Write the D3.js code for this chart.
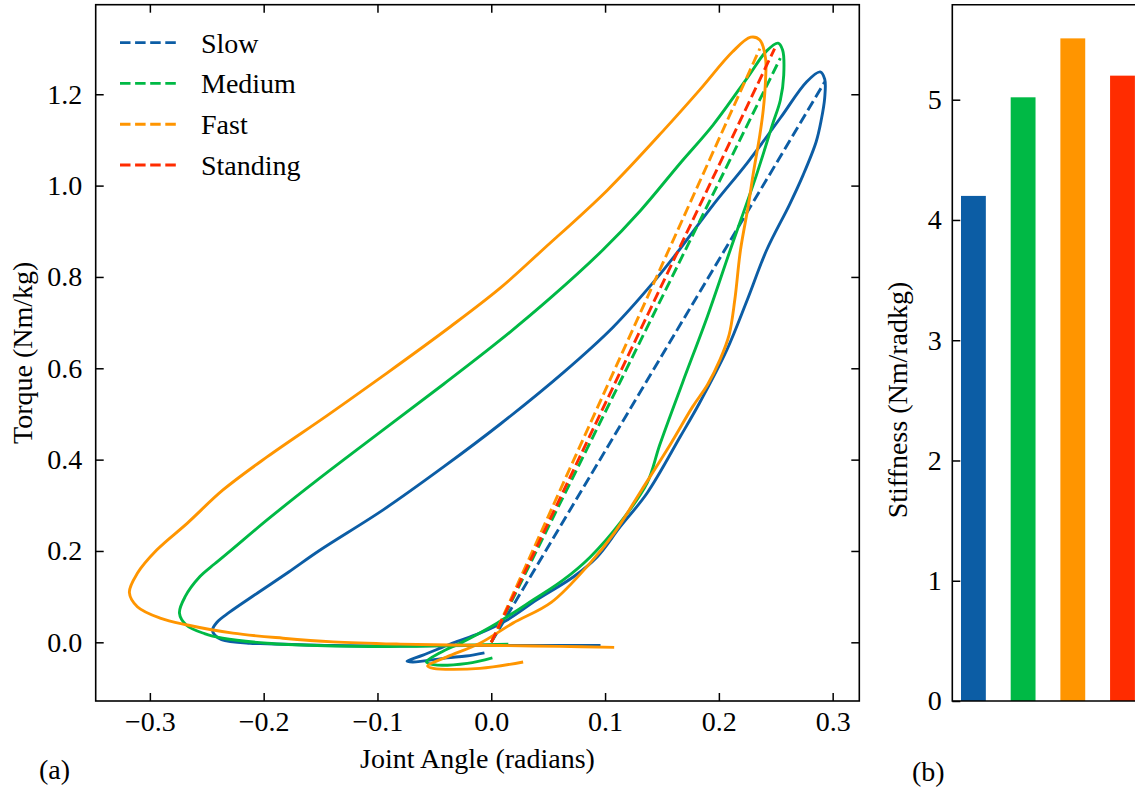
<!DOCTYPE html>
<html>
<head>
<meta charset="utf-8">
<script src="https://cdn.jsdelivr.net/npm/d3@7"></script>
<style>
body { margin: 0; background: #fff; }
svg { display: block; font-family: "Liberation Serif", "Times New Roman", serif; }
</style>
</head>
<body>
<svg id="chart" width="1135" height="790"></svg>
<script>
// conditions, colours and stiffness (bar heights)
var conditions = ["Slow", "Medium", "Fast", "Standing"];
var colors = ["#0C5DA5", "#00B945", "#FF9500", "#FF2C00"];
var stiffness = [4.2, 5.02, 5.51, 5.2];

var xTicks = [-0.3, -0.2, -0.1, 0.0, 0.1, 0.2, 0.3];
var yTicks = [0.0, 0.2, 0.4, 0.6, 0.8, 1.0, 1.2];
var barTicks = [0, 1, 2, 3, 4, 5];

// torque vs joint angle loops, [angle, torque]
var slowLoop = [
  [0.096,-0.007],[0.008,-0.007],[-0.080,-0.008],[-0.139,-0.007],[-0.197,-0.003],[-0.212,-0.002],
  [-0.237,0.006],[-0.243,0.016],[-0.245,0.027],[-0.241,0.044],[-0.230,0.066],[-0.206,0.107],
  [-0.178,0.154],[-0.151,0.201],[-0.095,0.290],[-0.042,0.384],[0.008,0.478],[0.063,0.590],
  [0.107,0.690],[0.142,0.787],[0.163,0.852],[0.195,0.958],[0.225,1.050],[0.254,1.148],
  [0.277,1.227],[0.289,1.249],[0.293,1.233],[0.293,1.192],[0.290,1.144],[0.2855,1.096],
  [0.274,1.023],[0.262,0.958],[0.242,0.859],[0.225,0.750],[0.207,0.640],[0.183,0.524],
  [0.166,0.450],[0.137,0.327],[0.113,0.252],[0.093,0.187],[0.072,0.143],[0.040,0.093],
  [0.014,0.049],[-0.010,0.020],[-0.034,-0.002],[-0.060,-0.028],[-0.074,-0.041],[-0.069,-0.043],
  [-0.039,-0.034],[-0.022,-0.030],[-0.006,-0.023]
];
var mediumLoop = [
  [0.015,-0.004],[-0.036,-0.007],[-0.080,-0.009],[-0.153,-0.007],[-0.197,-0.002],[-0.236,0.009],
  [-0.252,0.019],[-0.268,0.038],[-0.274,0.064],[-0.269,0.100],[-0.256,0.144],[-0.243,0.172],
  [-0.228,0.203],[-0.197,0.268],[-0.153,0.355],[-0.095,0.465],[-0.042,0.565],[0.008,0.662],
  [0.052,0.754],[0.098,0.859],[0.131,0.945],[0.166,1.049],[0.195,1.133],[0.225,1.236],
  [0.242,1.295],[0.252,1.312],[0.256,1.297],[0.257,1.242],[0.254,1.187],[0.247,1.133],
  [0.233,1.023],[0.210,0.859],[0.190,0.714],[0.168,0.568],[0.148,0.432],[0.137,0.349],
  [0.113,0.261],[0.087,0.187],[0.063,0.136],[0.037,0.093],[0.005,0.042],[-0.025,0.001],
  [-0.045,-0.023],[-0.057,-0.043],[-0.051,-0.049],[-0.021,-0.046],[0.001,-0.034]
];
var fastLoop = [
  [0.108,-0.011],[0.060,-0.009],[0.008,-0.007],[-0.036,-0.006],[-0.080,-0.004],[-0.139,0.001],
  [-0.183,0.009],[-0.227,0.020],[-0.267,0.038],[-0.291,0.053],[-0.311,0.078],[-0.318,0.109],
  [-0.311,0.151],[-0.294,0.202],[-0.267,0.261],[-0.236,0.333],[-0.197,0.406],[-0.144,0.497],
  [-0.092,0.589],[-0.036,0.691],[0.008,0.776],[0.045,0.859],[0.102,0.990],[0.154,1.128],
  [0.183,1.209],[0.212,1.293],[0.228,1.325],[0.236,1.319],[0.241,1.279],[0.241,1.231],
  [0.239,1.166],[0.236,1.111],[0.230,1.023],[0.226,0.958],[0.219,0.859],[0.214,0.750],
  [0.209,0.673],[0.201,0.619],[0.190,0.564],[0.177,0.516],[0.158,0.436],[0.132,0.333],
  [0.108,0.239],[0.087,0.174],[0.053,0.088],[0.019,0.042],[-0.010,-0.002],[-0.039,-0.032],
  [-0.056,-0.052],[-0.051,-0.057],[-0.010,-0.057],[0.028,-0.043]
];

// dashed stiffness fits, from origin to end point
var slowFit = [[0, 0], [0.293, 1.227]];
var mediumFit = [[0, 0], [0.254, 1.279]];
var fastFit = [[0, 0], [0.236, 1.300]];
var standingFit = [[0, 0], [0.249, 1.300]];

var loops = [slowLoop, mediumLoop, fastLoop];
var fits = [slowFit, mediumFit, fastFit, standingFit];

var svg = d3.select("#chart");
var fontSize = 28;
var lw = 2.9;
var dash = "10.5,4.6";

// ---- panel (a)
var a = {left: 95.7, right: 859.3, top: 4.7, bottom: 701};
var x = d3.scaleLinear().domain([-0.3476, 0.3234]).range([a.left, a.right]);
var y = d3.scaleLinear().domain([-0.1285, 1.3961]).range([a.bottom, a.top]);
var fmt = d3.format(".1f");

function styleAxis(g) {
  g.attr("font-family", null).attr("font-size", fontSize);
  g.select(".domain").remove();
  g.selectAll(".tick line").attr("stroke", "#000").attr("stroke-width", 1.5);
  g.selectAll(".tick text").attr("fill", "#000");
}

svg.append("g").attr("transform", "translate(0," + a.bottom + ")")
  .call(d3.axisBottom(x).tickValues(xTicks).tickFormat(fmt).tickSize(-8).tickPadding(10.5))
  .call(styleAxis);
svg.append("g").attr("transform", "translate(0," + a.top + ")")
  .call(d3.axisTop(x).tickValues(xTicks).tickFormat("").tickSize(-8))
  .call(styleAxis);
svg.append("g").attr("transform", "translate(" + a.left + ",0)")
  .call(d3.axisLeft(y).tickValues(yTicks).tickFormat(fmt).tickSize(-8).tickPadding(13.5))
  .call(styleAxis);
svg.append("g").attr("transform", "translate(" + a.right + ",0)")
  .call(d3.axisRight(y).tickValues(yTicks).tickFormat("").tickSize(-8))
  .call(styleAxis);

var line = d3.line()
  .x(function(d){ return x(d[0]); })
  .y(function(d){ return y(d[1]); })
  .curve(d3.curveCatmullRom.alpha(0.5));
var straight = d3.line()
  .x(function(d){ return x(d[0]); })
  .y(function(d){ return y(d[1]); });

var plot = svg.append("g");
conditions.forEach(function(c, i){
  if (loops[i]) {
    plot.append("path").datum(loops[i]).attr("d", line)
      .attr("fill", "none").attr("stroke", colors[i]).attr("stroke-width", lw)
      .attr("stroke-linejoin", "round");
  }
  plot.append("path").datum(fits[i]).attr("d", straight)
    .attr("fill", "none").attr("stroke", colors[i]).attr("stroke-width", lw)
    .attr("stroke-dasharray", dash);
});

svg.append("rect")
  .attr("x", a.left).attr("y", a.top)
  .attr("width", a.right - a.left).attr("height", a.bottom - a.top)
  .attr("fill", "none").attr("stroke", "#000").attr("stroke-width", 1.6);

// legend
var legend = svg.append("g").attr("font-size", fontSize);
conditions.forEach(function(c, i){
  var cy = 42.6 + i * 40.8;
  legend.append("line").attr("x1", 120).attr("x2", 178).attr("y1", cy).attr("y2", cy)
    .attr("stroke", colors[i]).attr("stroke-width", lw).attr("stroke-dasharray", dash);
  legend.append("text").attr("x", 201).attr("y", cy + 10).text(c);
});

svg.append("text").attr("font-size", fontSize).attr("text-anchor", "middle")
  .attr("x", (a.left + a.right) / 2).attr("y", 768).text("Joint Angle (radians)");
svg.append("text").attr("font-size", fontSize).attr("text-anchor", "middle")
  .attr("transform", "translate(32," + (a.top + a.bottom) / 2 + ") rotate(-90)")
  .text("Torque (Nm/kg)");
svg.append("text").attr("font-size", fontSize).attr("x", 39).attr("y", 779).text("(a)");

// ---- panel (b)
var b = {left: 952.3, top: 4.7, bottom: 701};
var yb = d3.scaleLinear().domain([0, 5.79]).range([b.bottom, b.top]);
var xb = d3.scaleBand().domain(conditions).range([b.left, b.left + 49.69 * 3.85])
  .paddingInner(0.5).paddingOuter(0.175);

svg.append("g").selectAll("rect").data(stiffness).join("rect")
  .attr("x", function(d, i){ return xb(conditions[i]); })
  .attr("width", xb.bandwidth())
  .attr("y", function(d){ return yb(d); })
  .attr("height", function(d){ return yb(0) - yb(d); })
  .attr("fill", function(d, i){ return colors[i]; });

svg.append("g").attr("transform", "translate(" + b.left + ",0)")
  .call(d3.axisLeft(yb).tickValues(barTicks).tickFormat(d3.format("d")).tickSize(-8).tickPadding(10.5))
  .call(styleAxis);

svg.append("path")
  .attr("d", "M1140," + b.top + "H" + b.left + "V" + b.bottom + "H1140")
  .attr("fill", "none").attr("stroke", "#000").attr("stroke-width", 1.6);

svg.append("text").attr("font-size", fontSize).attr("text-anchor", "middle")
  .attr("transform", "translate(907,400) rotate(-90)")
  .text("Stiffness (Nm/radkg)");
svg.append("text").attr("font-size", fontSize).attr("x", 912).attr("y", 781).text("(b)");
</script>
</body>
</html>
